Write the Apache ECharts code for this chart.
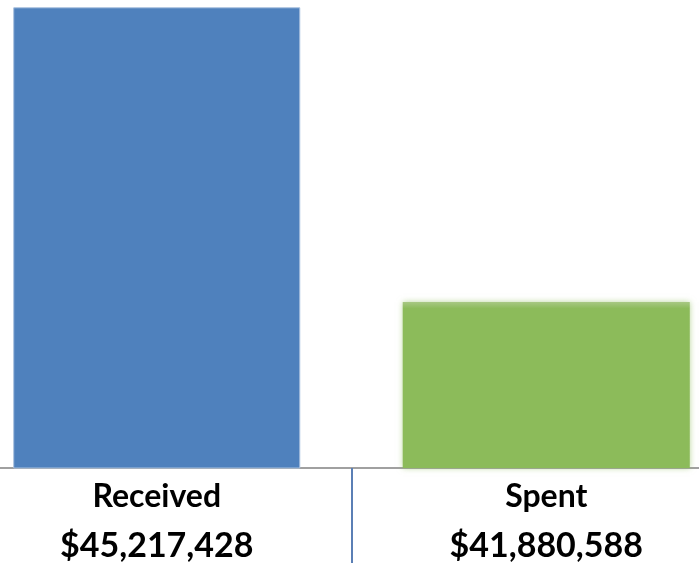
<!DOCTYPE html>
<html>
<head>
<meta charset="utf-8">
<script src="https://cdn.jsdelivr.net/npm/echarts@6/dist/echarts.min.js"></script>
<style>
  html, body { margin: 0; padding: 0; background: #fff; overflow: hidden; }
  body { width: 699px; height: 563px; position: relative; }
  /* plot area is wider than the window: the outer category edges are cropped */
  #chart { position: absolute; left: -38px; top: 0; width: 779px; height: 563px; }
</style>
</head>
<body>
<div id="chart"></div>
<script>
var categories = ['Received', 'Spent'];
var amounts = [45217428, 41880588];
var amountLabels = ['$45,217,428', '$41,880,588'];

var chart = echarts.init(document.getElementById('chart'));

var barColors = [
  { color: '#4f81bd', borderColor: '#a9c1df', borderWidth: 1 },
  {
    color: {
      type: 'linear', x: 0, y: 0, x2: 0, y2: 1,
      colorStops: [
        { offset: 0, color: '#a8c884' },
        { offset: 0.04, color: '#8cbb5a' },
        { offset: 1, color: '#8cbb5a' }
      ]
    },
    shadowColor: 'rgba(140,187,90,0.6)',
    shadowBlur: 6
  }
];

var option = {
  animation: false,
  grid: { left: 0, right: 0, top: 0, bottom: 89 },
  xAxis: {
    type: 'category',
    data: categories,
    axisLine: { lineStyle: { color: '#a0a0a0', width: 2 } },
    axisTick: { show: true, length: 100, lineStyle: { color: '#5b7fb5', width: 2 } },
    axisLabel: {
      margin: 5,
      formatter: function (value, idx) {
        return '{a|' + value + '}\n{b|' + amountLabels[idx] + '}';
      },
      rich: {
        a: { fontFamily: 'Lato', fontWeight: 'bold', fontSize: 32, color: '#000', lineHeight: 48 },
        b: { fontFamily: 'Lato', fontWeight: 'bold', fontSize: 34, color: '#000', lineHeight: 50 }
      }
    }
  },
  yAxis: {
    type: 'value',
    min: 40000000,
    max: 45300000,
    show: false,
    splitLine: { show: false }
  },
  series: [{
    type: 'bar',
    barWidth: '73.7%',
    data: amounts.map(function (v, i) {
      return { value: v, itemStyle: barColors[i] };
    })
  }]
};

chart.setOption(option);
</script>
</body>
</html>
